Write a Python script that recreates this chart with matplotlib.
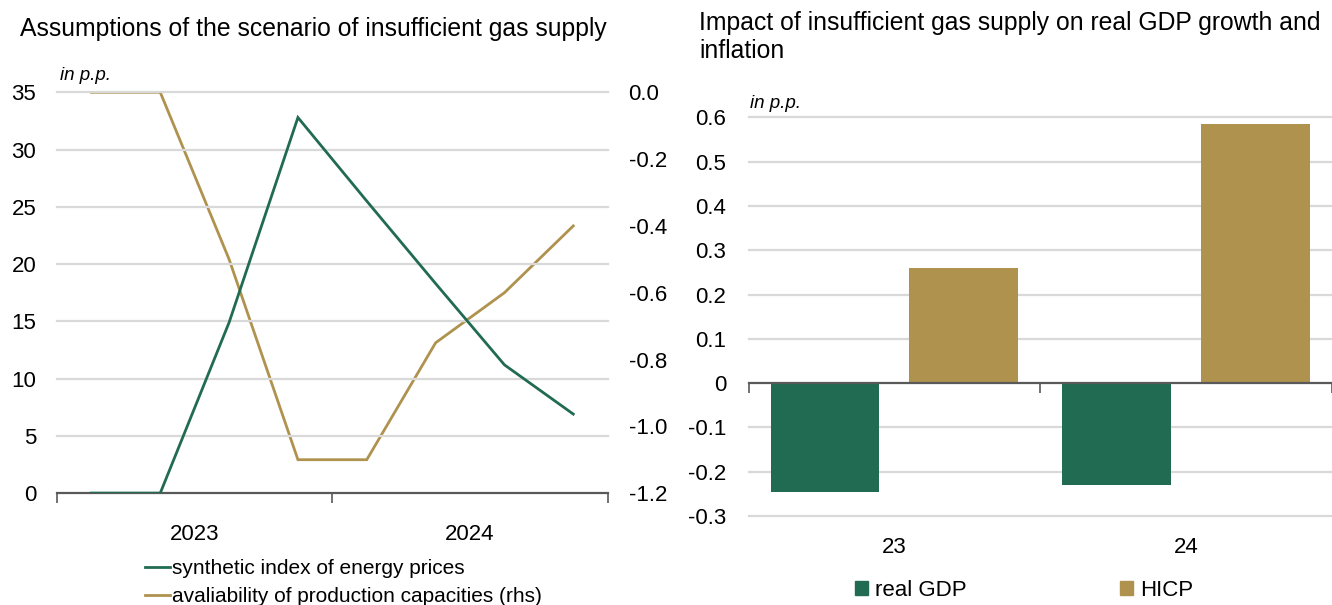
import matplotlib
matplotlib.use("Agg")
import matplotlib.pyplot as plt
import matplotlib.transforms as mtransforms
from matplotlib.lines import Line2D
from matplotlib.patches import Patch

# ---------------- data ----------------
quarters = ["2023Q1", "2023Q2", "2023Q3", "2023Q4", "2024Q1", "2024Q2", "2024Q3", "2024Q4"]
years = ["2023", "2024"]
energy_prices = [0.0, 0.0, 14.9, 32.8, 25.5, 18.3, 11.2, 6.9]
capacity = [0.0, 0.0, -0.50, -1.10, -1.10, -0.75, -0.60, -0.40]
left_ticks = [0, 5, 10, 15, 20, 25, 30, 35]
right_ticks = [-1.2, -1.0, -0.8, -0.6, -0.4, -0.2, 0.0]

bar_cats = ["23", "24"]
real_gdp = [-0.246, -0.230]
hicp = [0.260, 0.585]
bar_ticks = [-0.3, -0.2, -0.1, 0, 0.1, 0.2, 0.3, 0.4, 0.5, 0.6]

GREEN = "#216b52"
GOLD = "#b0924f"
GRID = "#d9d9d9"
AXC = "#595959"

plt.rcParams["font.family"] = ["Liberation Sans", "DejaVu Sans"]
TICK = 16

fig = plt.figure(figsize=(13.32, 6.05), dpi=100)
W, H = 1332, 605

def rect(x0, x1, ytop, ybot):
    return [x0 / W, 1 - ybot / H, (x1 - x0) / W, (ybot - ytop) / H]

# ---------------- left chart ----------------
ax = fig.add_axes(rect(57, 607.7, 92.3, 493.1))
ax2 = ax.twinx()
x = [i + 0.5 for i in range(len(quarters))]
ax.plot(x, energy_prices, color=GREEN, lw=2, solid_joinstyle="miter", zorder=3)
ax2.plot(x, capacity, color=GOLD, lw=2, solid_joinstyle="miter", zorder=3)
ax.set_xlim(0, len(quarters))
ax.set_ylim(0, 35)
ax2.set_ylim(-1.2, 0.0)
ax.set_yticks(left_ticks)
ax.set_yticklabels([str(v) for v in left_ticks])
ax2.set_yticks(right_ticks)
ax2.set_yticklabels([f"{v:.1f}" for v in right_ticks])
for t in left_ticks[1:]:
    ax.axhline(t, color=GRID, lw=1.6, zorder=1, clip_on=False)
for a in (ax, ax2):
    for s in ["top", "left", "right", "bottom"]:
        a.spines[s].set_visible(False)
ax.spines["bottom"].set_visible(True)
ax.spines["bottom"].set_color(AXC)
ax.spines["bottom"].set_linewidth(1.6)
ax.set_xticks([0, 4, 8])
ax.set_xticklabels([])
ax.set_xticks([2, 6], minor=True)
ax.set_xticklabels(years, minor=True)
ax.tick_params(axis="x", which="major", length=7, width=1.2, color=AXC, direction="out")
ax.tick_params(axis="x", which="minor", length=0, pad=22, labelsize=TICK, labelcolor="black")
ax.tick_params(axis="y", length=0, pad=15, labelsize=TICK)
ax2.tick_params(axis="y", length=0, pad=15, labelsize=TICK)
ax.set_zorder(ax2.get_zorder() + 1)
ax.patch.set_visible(False)

fig.text(20 / W, 1 - 29 / H, "Assumptions of the scenario of insufficient gas supply",
         fontsize=17.8, va="center", ha="left")
fig.text(60 / W, 1 - 76 / H, "in p.p.", fontsize=13.5, style="italic", va="center", ha="left")

handles = [Line2D([], [], color=GREEN, lw=2), Line2D([], [], color=GOLD, lw=2)]
fig.legend(handles, ["synthetic index of energy prices", "avaliability of production capacities (rhs)"],
           loc="upper left", bbox_to_anchor=(145 / W, 1 - 559 / H), frameon=False,
           handlelength=1.2, handletextpad=0.1, labelspacing=0.45, borderpad=0, borderaxespad=0,
           prop={"size": 15})

# ---------------- right chart ----------------
bx = fig.add_axes(rect(748.6, 1332, 117.5, 515.9))
n = len(bar_cats)
idx = list(range(n))
off = 0.238
bw = 0.373
bx.bar([i - off for i in idx], real_gdp, width=bw, color=GREEN, zorder=3)
bx.bar([i + off for i in idx], hicp, width=bw, color=GOLD, zorder=3)
bx.set_ylim(-0.3, 0.6)
bx.set_xlim(-0.5, -0.5 + 583.4 / 294.8)
bx.set_yticks(bar_ticks)
bx.set_yticklabels(["0" if v == 0 else f"{v:.1f}" for v in bar_ticks])
for t in bar_ticks:
    if t != 0:
        bx.axhline(t, color=GRID, lw=1.6, zorder=1, clip_on=False)
for s in ["top", "left", "right"]:
    bx.spines[s].set_visible(False)
bx.spines["bottom"].set_position(("data", 0))
bx.spines["bottom"].set_color(AXC)
bx.spines["bottom"].set_linewidth(1.6)
bx.spines["bottom"].set_zorder(4)
bx.set_xticks([i - 0.5 for i in range(n + 1)])
bx.set_xticklabels([])
bx.tick_params(axis="x", length=7, width=1.2, color=AXC, direction="out")
bx.tick_params(axis="y", length=0, pad=16, labelsize=TICK)
trans = mtransforms.blended_transform_factory(bx.transData, bx.transAxes)
for i, c in enumerate(bar_cats):
    bx.annotate(c, (i, 0), xycoords=trans, xytext=(0, -15), textcoords="offset points",
                ha="center", va="top", fontsize=TICK)

fig.text(699 / W, 1 - 23 / H, "Impact of insufficient gas supply on real GDP growth and",
         fontsize=17.8, va="center", ha="left")
fig.text(699 / W, 1 - 51 / H, "inflation", fontsize=17.8, va="center", ha="left")
fig.text(750 / W, 1 - 103 / H, "in p.p.", fontsize=13.5, style="italic", va="center", ha="left")

bh = [Patch(color=GREEN), Patch(color=GOLD)]
fig.legend(bh, ["real GDP", "HICP"], loc="center left", bbox_to_anchor=(855 / W, 1 - 590 / H),
           ncol=2, frameon=False, handlelength=0.6, handleheight=0.6, handletextpad=0.3,
           columnspacing=6.9, borderpad=0, borderaxespad=0,
           prop={"size": 16})

fig.savefig("out.png", dpi=100)
